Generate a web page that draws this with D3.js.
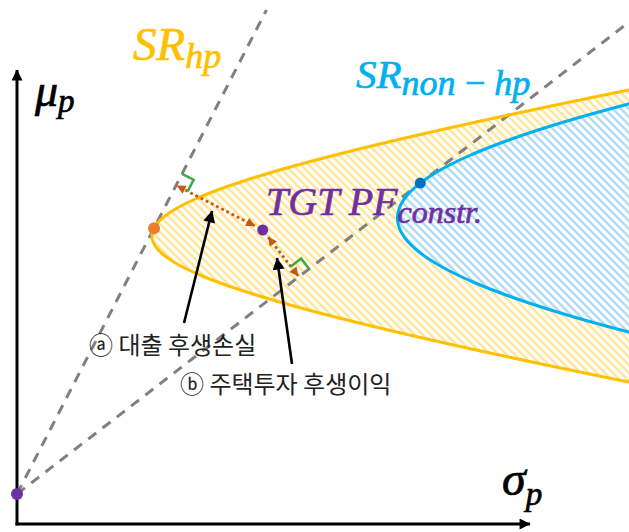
<!DOCTYPE html>
<html>
<head>
<meta charset="utf-8">
<script src="https://cdn.jsdelivr.net/npm/d3@7"></script>
<style>
  html, body { margin: 0; padding: 0; background: #fff; }
  svg { display: block; }
</style>
</head>
<body>
<div id="chart"></div>
<script>
// Mean–variance frontiers: housing-inclusive (hp) and non-housing (non-hp)
const frontierKeys   = ["hp", "non-hp"];
const vertexSigma    = [1.35, 3.805];   // σ at the minimum-variance point
const centerMu       = [2.88, 3.06];    // μ at the minimum-variance point
const shapeA         = [5.0, 20.0];     // hyperbola semi-axis along σ
const shapeB         = [0.87, 2.306];   // hyperbola semi-axis along μ
const riskFree       = 0.30;            // μ of the risk-free asset (σ = 0)

// Target (constrained) portfolio
const targetSigma = 2.457;
const targetMu    = 2.94;

// Axis extents
const sigmaMax = 6.12, muMax = 5.24;
const sigmaAxisEnd = 5.13, muAxisEnd = 4.54;

// Label texts
const labelWelfareLoss = "ⓐ 대출 후생손실";
const labelWelfareGain = "ⓑ 주택투자 후생이익";

const W = 629, H = 532;
const svg = d3.select("#chart").append("svg").attr("width", W).attr("height", H);

const x = d3.scaleLinear().domain([0, sigmaMax]).range([17, 629]);
const y = d3.scaleLinear().domain([0, muMax]).range([524, 0]);

const colors = {
  hpLine: "#FFC000", hpHatch: "#FFE699",
  nonLine: "#00B0F0", nonHatch: "#B4DCF2",
  dash: "#808080", welfare: "#C55A11", right: "#3BAA45",
  purple: "#7030A0", orange: "#ED7D31", blue: "#0070C0"
};

function sigmaOf(i, mu) {
  const d = (mu - centerMu[i]) / shapeB[i];
  return vertexSigma[i] - shapeA[i] + shapeA[i] * Math.sqrt(1 + d * d);
}

// Tangency (maximum Sharpe ratio) portfolio of each frontier
const tangency = frontierKeys.map((k, i) => {
  const mus = d3.range(centerMu[i], centerMu[i] + 2, 0.0005);
  const best = d3.greatestIndex(mus, m => (m - riskFree) / sigmaOf(i, m));
  const mu = mus[best], s = sigmaOf(i, mu);
  return { key: k, sigma: s, mu: mu, sr: (mu - riskFree) / s };
});

// ---------- defs: hatching and arrowheads ----------
const defs = svg.append("defs");
function hatch(id, color) {
  const p = defs.append("pattern").attr("id", id)
    .attr("patternUnits", "userSpaceOnUse").attr("width", 8).attr("height", 8);
  p.append("rect").attr("width", 8).attr("height", 8).attr("fill", "#fff");
  p.append("path").attr("d", "M0,0 L8,8 M-1,7 L1,9 M7,-1 L9,1")
    .attr("stroke", color).attr("stroke-width", 2.6);
}
hatch("hatch-hp", colors.hpHatch);
hatch("hatch-non", colors.nonHatch);

function arrowMarker(id, color, w, h) {
  defs.append("marker").attr("id", id)
    .attr("viewBox", "0 0 10 10").attr("refX", 9.5).attr("refY", 5)
    .attr("markerUnits", "userSpaceOnUse")
    .attr("markerWidth", w).attr("markerHeight", h)
    .attr("orient", "auto-start-reverse")
    .append("path").attr("d", "M0,0 L10,5 L0,10 Z").attr("fill", color);
}
arrowMarker("head-axis", "#000", 15, 11);
arrowMarker("head-black", "#000", 15, 12);
arrowMarker("head-welfare", colors.welfare, 10, 9);

// ---------- frontier regions ----------
const spans = [1.8, 1.6];
const line = d3.line().x(d => x(d[0])).y(d => y(d[1]));
const frontierPts = frontierKeys.map((k, i) =>
  d3.range(centerMu[i] - spans[i], centerMu[i] + spans[i] + 1e-9, 0.005)
    .map(m => [sigmaOf(i, m), m]));

svg.append("path").attr("d", line(frontierPts[0]) + "Z").attr("fill", "url(#hatch-hp)");
svg.append("path").attr("d", line(frontierPts[1]) + "Z").attr("fill", "url(#hatch-non)");

// ---------- capital market lines from the risk-free point ----------
const cmlEnds = [
  [(5.14 - riskFree) / tangency[0].sr, 5.14],
  [sigmaMax, riskFree + tangency[1].sr * sigmaMax]
];
cmlEnds.forEach(e => {
  svg.append("line")
    .attr("x1", x(0)).attr("y1", y(riskFree))
    .attr("x2", x(e[0])).attr("y2", y(e[1]))
    .attr("stroke", colors.dash).attr("stroke-width", 3)
    .attr("stroke-dasharray", "10,8");
});

// frontier outlines
svg.append("path").attr("d", line(frontierPts[0])).attr("fill", "none")
  .attr("stroke", colors.hpLine).attr("stroke-width", 3);
svg.append("path").attr("d", line(frontierPts[1])).attr("fill", "none")
  .attr("stroke", colors.nonLine).attr("stroke-width", 3);

// ---------- axes ----------
svg.append("line").attr("x1", x(0)).attr("y1", y(0) + 1.5).attr("x2", x(0)).attr("y2", y(muAxisEnd))
  .attr("stroke", "#000").attr("stroke-width", 3).attr("marker-end", "url(#head-axis)");
svg.append("line").attr("x1", x(0) - 1.5).attr("y1", y(0)).attr("x2", x(sigmaAxisEnd)).attr("y2", y(0))
  .attr("stroke", "#000").attr("stroke-width", 3).attr("marker-end", "url(#head-axis)");

// ---------- welfare distances: target portfolio to each capital market line ----------
const P = [x(targetSigma), y(targetMu)];
const O = [x(0), y(riskFree)];
tangency.forEach(t => {
  const T = [x(t.sigma), y(t.mu)];
  const len = Math.hypot(T[0] - O[0], T[1] - O[1]);
  const u = [(T[0] - O[0]) / len, (T[1] - O[1]) / len];
  const proj = (P[0] - O[0]) * u[0] + (P[1] - O[1]) * u[1];
  const F = [O[0] + proj * u[0], O[1] + proj * u[1]];
  const dist = Math.hypot(P[0] - F[0], P[1] - F[1]);
  const n = [(P[0] - F[0]) / dist, (P[1] - F[1]) / dist];

  // double-headed dotted arrow
  svg.append("line")
    .attr("x1", P[0] - n[0] * 9).attr("y1", P[1] - n[1] * 9)
    .attr("x2", F[0] + n[0] * 1).attr("y2", F[1] + n[1] * 1)
    .attr("stroke", colors.welfare).attr("stroke-width", 2.8)
    .attr("stroke-dasharray", "2.8,3")
    .attr("marker-start", "url(#head-welfare)").attr("marker-end", "url(#head-welfare)");

  // right-angle marker
  const s = 13;
  const a = [F[0] + u[0] * s, F[1] + u[1] * s];
  const c = [a[0] + n[0] * s, a[1] + n[1] * s];
  const b = [F[0] + n[0] * s, F[1] + n[1] * s];
  svg.append("polyline").attr("points", [a, c, b].map(p => p.join(",")).join(" "))
    .attr("fill", "none").attr("stroke", colors.right).attr("stroke-width", 2.5);
});

// ---------- annotation pointers ----------
const pointers = [
  { from: [1.67, 2.01], to: [1.95, 3.13] },
  { from: [2.75, 1.60], to: [2.60, 2.66] }
];
pointers.forEach(p => {
  svg.append("line")
    .attr("x1", x(p.from[0])).attr("y1", y(p.from[1]))
    .attr("x2", x(p.to[0])).attr("y2", y(p.to[1]))
    .attr("stroke", "#000").attr("stroke-width", 2.6)
    .attr("marker-end", "url(#head-black)");
});

// ---------- points ----------
svg.append("circle").attr("cx", x(tangency[0].sigma)).attr("cy", y(tangency[0].mu)).attr("r", 6).attr("fill", colors.orange);
svg.append("circle").attr("cx", x(tangency[1].sigma)).attr("cy", y(tangency[1].mu)).attr("r", 5.5).attr("fill", colors.blue);
svg.append("circle").attr("cx", P[0]).attr("cy", P[1]).attr("r", 5.5).attr("fill", colors.purple);
svg.append("circle").attr("cx", O[0]).attr("cy", O[1]).attr("r", 6).attr("fill", colors.purple);

// ---------- math labels ----------
const mathFont = "'Liberation Serif', 'DejaVu Serif', serif";
function mathLabel(px, py, main, sub, size, subSize, subDy, color) {
  const t = svg.append("text").attr("x", px).attr("y", py)
    .attr("font-family", mathFont).attr("font-style", "italic").attr("fill", color)
    .attr("stroke", color).attr("stroke-width", 0.7).attr("xml:space", "preserve");
  t.append("tspan").attr("font-size", size).text(main);
  t.append("tspan").attr("font-size", subSize).attr("dy", subDy).text(sub);
}
mathLabel(35, 106, "μ", "p", 46, 33, 6, "#000");
mathLabel(502, 495, "σ", "p", 48, 33, 10, "#000");
mathLabel(133, 60, "SR", "hp", 47, 36, 8, colors.hpLine);
mathLabel(356, 88, "SR", "non\u2009−\u2009hp", 41, 36, 7, colors.nonLine);
mathLabel(266, 215, "TGT PF", "constr.", 40, 32, 8, colors.purple);

// ---------- Korean annotation labels ----------
const krFont = "'Noto Sans CJK KR', 'Noto Sans', sans-serif";
svg.append("text").attr("x", 89).attr("y", 354).attr("font-family", krFont)
  .attr("font-size", 24).attr("fill", "#222").text(labelWelfareLoss);
svg.append("text").attr("x", 180).attr("y", 393).attr("font-family", krFont)
  .attr("font-size", 24).attr("fill", "#222").text(labelWelfareGain);
</script>
</body>
</html>
